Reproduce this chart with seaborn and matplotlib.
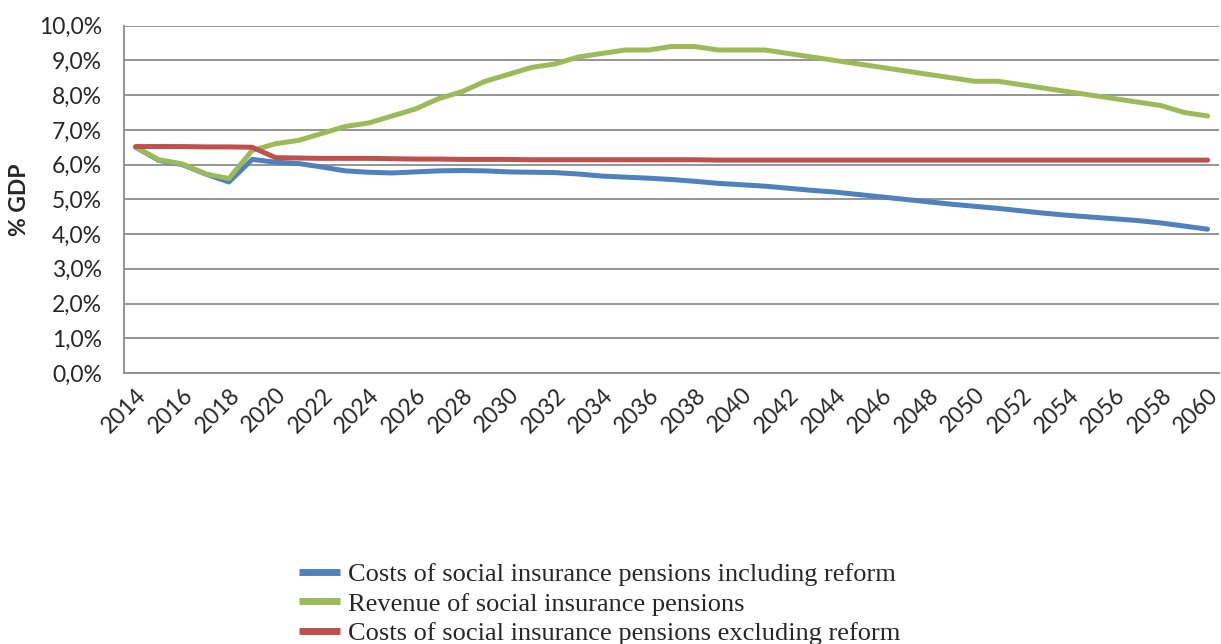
import numpy as np
import pandas as pd
import seaborn as sns
import matplotlib.pyplot as plt
from matplotlib.ticker import FuncFormatter, MultipleLocator

years = list(range(2014, 2061))

costs_incl_reform = [6.5, 6.12, 6.0, 5.73, 5.5, 6.15, 6.07, 6.03, 5.93, 5.82,
                     5.78, 5.76, 5.79, 5.82, 5.83, 5.82, 5.79, 5.78, 5.77, 5.73,
                     5.67, 5.64, 5.61, 5.57, 5.52, 5.46, 5.42, 5.38, 5.32, 5.26,
                     5.21, 5.14, 5.07, 5.0, 4.93, 4.86, 4.8, 4.74, 4.67, 4.6,
                     4.54, 4.49, 4.44, 4.39, 4.32, 4.23, 4.14]
revenue = [6.5, 6.14, 6.02, 5.73, 5.6, 6.41, 6.6, 6.7, 6.9, 7.1,
           7.2, 7.4, 7.6, 7.9, 8.1, 8.4, 8.6, 8.8, 8.9, 9.1,
           9.2, 9.3, 9.3, 9.4, 9.4, 9.3, 9.3, 9.3, 9.2, 9.1,
           9.0, 8.9, 8.8, 8.7, 8.6, 8.5, 8.4, 8.4, 8.3, 8.2,
           8.1, 8.0, 7.9, 7.8, 7.7, 7.5, 7.4]
costs_excl_reform = [6.52, 6.52, 6.52, 6.51, 6.51, 6.5, 6.2, 6.19, 6.18, 6.18,
                     6.18, 6.17, 6.16, 6.16, 6.15, 6.15, 6.15, 6.14, 6.14, 6.14,
                     6.14, 6.14, 6.14, 6.14, 6.14, 6.13, 6.13, 6.13, 6.13, 6.13,
                     6.13, 6.13, 6.13, 6.13, 6.13, 6.13, 6.13, 6.13, 6.13, 6.13,
                     6.13, 6.13, 6.13, 6.13, 6.13, 6.13, 6.13]

series_names = ["Costs of social insurance pensions including reform",
                "Revenue of social insurance pensions",
                "Costs of social insurance pensions excluding reform"]
colors = ["#4F81BD", "#9BBB59", "#C0504D"]

df = pd.concat([
    pd.DataFrame({"Year": years, "Value": costs_incl_reform, "Series": series_names[0]}),
    pd.DataFrame({"Year": years, "Value": revenue, "Series": series_names[1]}),
    pd.DataFrame({"Year": years, "Value": costs_excl_reform, "Series": series_names[2]}),
])

sns.set_style("white")
plt.rcParams["font.family"] = ["Lato", "DejaVu Sans"]

fig = plt.figure(figsize=(12.21, 6.44), dpi=100)
ax = fig.add_axes([0.1016, 0.4208, 0.897, 0.5393])

sns.lineplot(data=df, x="Year", y="Value", hue="Series", hue_order=series_names,
             palette=colors, linewidth=3.6, ax=ax, legend=False, zorder=3)

ax.set_xlim(2013.5, 2060.5)
ax.set_ylim(0, 10)
ax.yaxis.set_major_locator(MultipleLocator(1))
ax.yaxis.set_major_formatter(FuncFormatter(lambda v, p: ("%.1f%%" % v).replace(".", ",")))
ax.grid(axis="y", color="#8c8c8c", linewidth=1.3, zorder=0)

ax.set_xticks(years[::2])
ax.set_xticks(np.arange(2013.5, 2061, 1), minor=True)
ax.set_xticklabels([str(y) for y in years[::2]], rotation=45, ha="right",
                   rotation_mode="anchor", fontsize=16.5)
ax.tick_params(axis="x", which="major", length=0, pad=8)
ax.tick_params(axis="x", which="minor", length=6, width=1.2, color="#8c8c8c", direction="out")
ax.tick_params(axis="y", which="major", length=7, width=1.2, color="#8c8c8c",
               direction="out", labelsize=16.5, pad=9)

for s in ["top", "right"]:
    ax.spines[s].set_visible(False)
for s in ["left", "bottom"]:
    ax.spines[s].set_color("#8c8c8c")
    ax.spines[s].set_linewidth(1.3)

ax.set_xlabel("")
ax.set_ylabel("% GDP", fontsize=16.5, fontweight="bold", labelpad=6)

handles = [plt.Line2D([], [], color=c, linewidth=5, solid_capstyle="butt") for c in colors]
fig.legend(handles, series_names, loc="upper left", bbox_to_anchor=(0.245, 0.126),
           bbox_transform=fig.transFigure, frameon=False,
           prop={"family": "Liberation Serif", "size": 19},
           handlelength=1.55, handletextpad=0.3, labelspacing=0.22,
           borderpad=0, borderaxespad=0)

fig.savefig("out.png", dpi=100)
